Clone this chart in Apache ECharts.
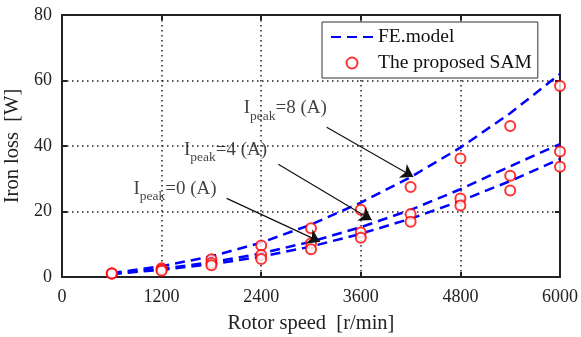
<!DOCTYPE html>
<html>
<head>
<meta charset="utf-8">
<script src="https://cdn.jsdelivr.net/npm/echarts@6/dist/echarts.min.js"></script>
<style>
html,body{margin:0;padding:0;background:#fff;}
#main{width:581px;height:337px;}
</style>
</head>
<body>
<div id="main"></div>
<script>
// rotor speeds (r/min)
var speeds = [600, 1200, 1800, 2400, 3000, 3600, 4200, 4800, 5400, 6000];

// FE model iron loss [W]
var fe8 = [1.2, 3.3, 6.3, 10.5, 16.0, 22.7, 30.5, 39.5, 50.0, 62.0];
var fe4 = [1.0, 2.5, 4.5, 7.2, 10.8, 15.2, 20.5, 26.8, 33.8, 40.6];
var fe0 = [0.9, 2.2, 3.9, 6.2, 9.3, 13.2, 17.8, 23.2, 29.3, 36.0];

// proposed SAM iron loss [W]
var sam8 = [1.1, 2.7, 5.4, 9.6, 14.9, 20.5, 27.5, 36.2, 46.1, 58.3];
var sam4 = [1.1, 2.2, 4.3, 6.7, 10.3, 13.6, 19.2, 24.0, 30.9, 38.3];
var sam0 = [1.1, 1.9, 3.6, 5.5, 8.5, 12.0, 16.9, 21.8, 26.4, 33.7];

// annotations: text anchor and arrow start/end, in data units
var annoText = ['8', '4', '0'];
var annoPos = [[2190, 51.0], [1470, 38.2], [860, 26.4]];
var arrowFrom = [[3189, 45.7], [2606, 34.4], [1984, 24.0]];
var arrowTo = [[4232, 30.6], [3731, 17.4], [3108, 10.8]];

var fontName = 'Liberation Serif';

function pairs(ys) {
	var out = [];
	for (var i = 0; i < speeds.length; i++) {
		out.push([speeds[i], ys[i]]);
	}
	return out;
}

function feSeries(ys) {
	return {
		name: 'FE.model',
		type: 'line',
		data: pairs(ys),
		symbol: 'none',
		lineStyle: { color: '#0000ff', width: 2.5, type: [10, 6] },
		itemStyle: { color: '#0000ff' },
		z: 3
	};
}

function samSeries(ys) {
	return {
		name: 'The proposed SAM',
		type: 'scatter',
		data: pairs(ys),
		symbol: 'emptyCircle',
		symbolSize: 10,
		itemStyle: { color: '#ff0000', borderColor: '#ff0000', borderWidth: 1.5 },
		z: 4
	};
}

function plain(v) {
	return String(v);
}

var annoData = [];
var arrows = [];
for (var i = 0; i < annoText.length; i++) {
	annoData.push({ value: annoPos[i], txt: annoText[i] });
	arrows.push([{ coord: arrowFrom[i] }, { coord: arrowTo[i] }]);
}

var chart = echarts.init(document.getElementById('main'), null, { renderer: 'canvas' });

var option = {
	animation: false,
	textStyle: { fontFamily: fontName },
	grid: { left: 62, right: 21, top: 15, bottom: 60, containLabel: false, outerBoundsMode: 'none' },
	legend: {
		data: [
			{ name: 'FE.model', itemStyle: { opacity: 0 } },
			{ name: 'The proposed SAM' }
		],
		orient: 'vertical',
		left: 322,
		top: 22,
		padding: [4, 6, 4, 8],
		itemGap: 4,
		itemWidth: 42,
		itemHeight: 11,
		backgroundColor: '#fff',
		borderColor: '#333',
		borderWidth: 1,
		borderRadius: 0,
		textStyle: { fontFamily: fontName, fontSize: 19.5, color: '#111', lineHeight: 22 }
	},
	xAxis: [
		{
			type: 'value',
			min: 0, max: 6000, interval: 1200,
			name: 'Rotor speed  [r/min]',
			nameLocation: 'middle',
			nameGap: 36,
			nameTextStyle: { fontFamily: fontName, fontSize: 20.5, color: '#222' },
			axisLine: { onZero: false, lineStyle: { color: '#222', width: 2 } },
			axisTick: { inside: true, length: 5, lineStyle: { color: '#222', width: 2 } },
			axisLabel: { fontFamily: fontName, fontSize: 18, color: '#222', margin: 11, formatter: plain },
			splitLine: { show: true, lineStyle: { color: '#222', type: [1.5, 3.5], width: 1.5 } }
		},
		{
			type: 'value', position: 'top',
			min: 0, max: 6000, interval: 1200,
			axisLine: { onZero: false, lineStyle: { color: '#222', width: 2 } },
			axisTick: { inside: true, length: 5, lineStyle: { color: '#222', width: 2 } },
			axisLabel: { show: false },
			splitLine: { show: false }
		}
	],
	yAxis: [
		{
			type: 'value',
			min: 0, max: 80, interval: 20,
			name: 'Iron loss  [W]',
			nameLocation: 'middle',
			nameGap: 34,
			nameTextStyle: { fontFamily: fontName, fontSize: 20.5, color: '#222' },
			axisLine: { onZero: false, lineStyle: { color: '#222', width: 2 } },
			axisTick: { inside: true, length: 5, lineStyle: { color: '#222', width: 2 } },
			axisLabel: { fontFamily: fontName, fontSize: 18, color: '#222', margin: 10, formatter: plain },
			splitLine: { show: true, lineStyle: { color: '#222', type: [1.5, 3.5], width: 1.5 } }
		},
		{
			type: 'value', position: 'right',
			min: 0, max: 80, interval: 20,
			axisLine: { onZero: false, lineStyle: { color: '#222', width: 2 } },
			axisTick: { inside: true, length: 5, lineStyle: { color: '#222', width: 2 } },
			axisLabel: { show: false },
			splitLine: { show: false }
		}
	],
	series: [
		feSeries(fe8),
		feSeries(fe4),
		feSeries(fe0),
		samSeries(sam8),
		samSeries(sam4),
		samSeries(sam0),
		{
			name: 'annotations',
			type: 'scatter',
			data: annoData,
			symbolSize: 0,
			silent: true,
			z: 5,
			label: {
				show: true,
				position: 'right',
				distance: 0,
				formatter: function (p) {
					return '{a|I}{b|peak}{a|=' + p.data.txt + ' (A)}';
				},
				rich: {
					a: { fontFamily: fontName, fontSize: 19, color: '#111', lineHeight: 22, verticalAlign: 'top' },
					b: { fontFamily: fontName, fontSize: 13.5, color: '#111', lineHeight: 13, verticalAlign: 'top', padding: [10, 0, 0, 0] }
				}
			},
			markLine: {
				silent: true,
				animation: false,
				symbol: ['none', 'arrow'],
				symbolSize: 12,
				label: { show: false },
				itemStyle: { color: '#111' },
				lineStyle: { color: '#111', width: 1.2, type: 'solid' },
				data: arrows
			}
		}
	]
};

chart.setOption(option);
</script>
</body>
</html>
